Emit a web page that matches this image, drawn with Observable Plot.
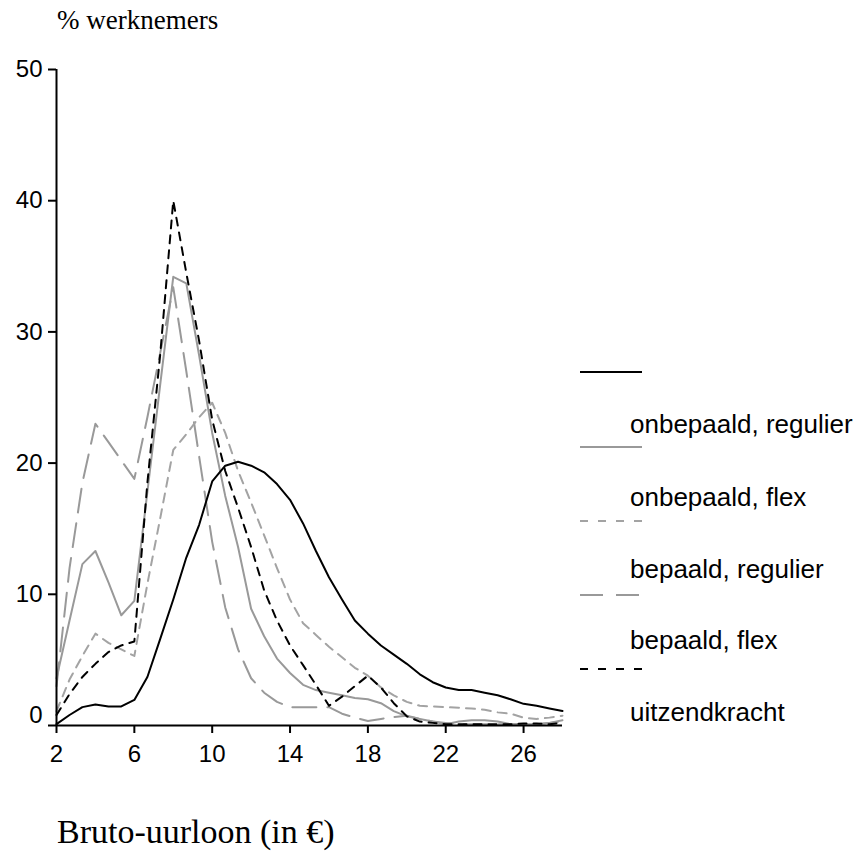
<!DOCTYPE html>
<html>
<head>
<meta charset="utf-8">
<script src="https://cdn.jsdelivr.net/npm/d3@7"></script>
<script src="https://cdn.jsdelivr.net/npm/@observablehq/plot@0.6"></script>
<style>
  body { margin: 0; background: #fff; }
  #wrap { position: relative; width: 855px; height: 851px; background: #fff; overflow: hidden; }
  #chart { position: absolute; left: 0; top: 0; }
  #overlay { position: absolute; left: 0; top: 0; pointer-events: none; }
</style>
</head>
<body>
<div id="wrap">
  <div id="chart"></div>
  <svg id="overlay" width="855" height="851"></svg>
</div>
<script>
// Bruto-uurloon (in €), bin midpoints
const uurloon = [2, 2.67, 3.33, 4, 4.67, 5.33, 6, 6.67, 7.33, 8, 8.67, 9.33, 10, 10.67, 11.33, 12, 12.67, 13.33, 14, 14.67,
                 15.33, 16, 16.67, 17.33, 18, 18.67, 19.33, 20, 20.67, 21.33, 22, 22.67, 23.33, 24, 24.67, 25.33, 26, 26.67, 27.33, 28];

// % werknemers per series
const onbepaaldRegulier = [0.1, 0.8, 1.4, 1.6, 1.45, 1.45, 1.95, 3.7, 6.6, 9.6, 12.8, 15.3, 18.6, 19.8, 20.1, 19.8, 19.3, 18.4, 17.2, 15.4,
                           13.3, 11.3, 9.6, 8.0, 7.0, 6.1, 5.4, 4.7, 3.9, 3.3, 2.9, 2.7, 2.7, 2.5, 2.3, 2.0, 1.65, 1.5, 1.3, 1.1];
const onbepaaldFlex     = [3.6, 8.0, 12.3, 13.3, 10.9, 8.4, 9.5, 17.8, 26.0, 34.2, 33.7, 28.2, 22.3, 17.5, 13.6, 8.9, 6.8, 5.1, 4.0, 3.1,
                           2.7, 2.5, 2.3, 2.1, 2.0, 1.7, 1.1, 0.7, 0.5, 0.3, 0.1, 0.3, 0.4, 0.4, 0.3, 0.1, 0.1, 0.1, 0.2, 0.4];
const bepaaldRegulier   = [1.1, 3.5, 5.3, 7.0, 6.3, 5.8, 5.3, 10.8, 15.8, 21.0, 22.2, 23.5, 24.6, 22.3, 19.4, 17.0, 14.5, 12.0, 9.6, 7.8,
                           6.9, 6.0, 5.2, 4.4, 3.8, 2.9, 2.3, 1.8, 1.5, 1.45, 1.4, 1.35, 1.3, 1.2, 1.0, 0.9, 0.6, 0.5, 0.6, 0.75];
const bepaaldFlex       = [3.0, 12.0, 18.5, 23.0, 21.6, 20.2, 18.8, 23.5, 28.4, 33.4, 27.0, 20.5, 14.0, 9.0, 5.8, 3.6, 2.5, 1.8, 1.4, 1.4,
                           1.4, 1.4, 0.9, 0.6, 0.35, 0.5, 0.65, 0.75, 0.5, 0.3, 0.2, 0.1, 0.1, 0.1, 0.1, 0.1, 0.1, 0.1, 0.2, 0.3];
const uitzendkracht     = [0.8, 2.4, 3.7, 4.7, 5.6, 6.1, 6.4, 18.5, 28.3, 40.0, 34.5, 29.3, 23.3, 19.4, 16.6, 13.6, 10.3, 8.0, 6.1, 4.6,
                           3.1, 1.5, 2.2, 3.0, 3.8, 2.9, 1.7, 0.7, 0.3, 0.2, 0.1, 0.1, 0.1, 0.1, 0.1, 0.1, 0.15, 0.15, 0.1, 0.2];

const seriesNames = ["onbepaald, regulier", "onbepaald, flex", "bepaald, regulier", "bepaald, flex", "uitzendkracht"];
const seriesValues = [onbepaaldRegulier, onbepaaldFlex, bepaaldRegulier, bepaaldFlex, uitzendkracht];

const xTicks = [2, 6, 10, 14, 18, 22, 26];
const yTicks = [0, 10, 20, 30, 40, 50];

const titleText = "% werknemers";
const xLabelText = "Bruto-uurloon (in €)";

// styles per series
const styles = [
  {stroke: "#000000", dash: null},
  {stroke: "#999999", dash: null},
  {stroke: "#a3a3a3", dash: "9,7"},
  {stroke: "#999999", dash: "24,11"},
  {stroke: "#000000", dash: "8,7"}
];

const rows = seriesNames.map((name, s) => uurloon.map((x, i) => ({serie: name, x, y: seriesValues[s][i]})));

const drawOrder = [3, 2, 1, 4, 0];

const plot = Plot.plot({
  width: 855,
  height: 770,
  marginLeft: 56,
  marginRight: 293,
  marginTop: 69,
  marginBottom: 45,
  style: {fontFamily: "'Liberation Sans', Arial, sans-serif", fontSize: "24px", color: "#000", background: "#fff", overflow: "visible"},
  x: {domain: [2, 28], label: null},
  y: {domain: [0, 50], label: null},
  marks: [
    ...drawOrder.map(s => Plot.line(rows[s], {
      x: "x", y: "y",
      stroke: styles[s].stroke,
      strokeWidth: 2,
      strokeDasharray: styles[s].dash,
      strokeLinejoin: "round"
    })),
    Plot.ruleY([0], {x1: 2, x2: 28, stroke: "#000", strokeWidth: 2}),
    Plot.ruleX([2], {y1: 0, y2: 50, stroke: "#000", strokeWidth: 2}),
    Plot.axisX({ticks: xTicks, tickSize: 8, tickPadding: 11, strokeWidth: 2, fontSize: 24, label: null}),
    Plot.axisY({ticks: yTicks, tickSize: 8, tickPadding: 6, strokeWidth: 2, fontSize: 24, label: null,
                tickFormat: d => d === 0 ? "" : String(d)}),
    Plot.axisY({ticks: [0], tickSize: 0, tickPadding: 14, dy: -10, fontSize: 24, label: null,
                tickFormat: d => String(d)})
  ]
});
document.getElementById("chart").appendChild(plot);

// Title, x label and legend (outside the plot area)
const ov = d3.select("#overlay");
ov.append("text")
  .attr("x", 57).attr("y", 29)
  .attr("font-family", "'Liberation Serif', 'Times New Roman', serif")
  .attr("font-size", 27)
  .attr("fill", "#000")
  .text(titleText);
ov.append("text")
  .attr("x", 57).attr("y", 843)
  .attr("font-family", "'Liberation Serif', 'Times New Roman', serif")
  .attr("font-size", 34)
  .attr("fill", "#000")
  .text(xLabelText);

const legendLineY = [372, 447, 521, 595, 669];
const legendTextY = [433, 506, 578, 649, 721];
seriesNames.forEach((name, s) => {
  ov.append("line")
    .attr("x1", 580).attr("x2", 642)
    .attr("y1", legendLineY[s]).attr("y2", legendLineY[s])
    .attr("stroke", styles[s].stroke)
    .attr("stroke-width", 2)
    .attr("stroke-dasharray", styles[s].dash === null ? null : (styles[s].dash === "24,11" ? "23,13" : "8,10"));
  ov.append("text")
    .attr("x", 630).attr("y", legendTextY[s])
    .attr("font-family", "'Liberation Sans', Arial, sans-serif")
    .attr("font-size", 26)
    .attr("fill", "#000")
    .text(name);
});
</script>
</body>
</html>
